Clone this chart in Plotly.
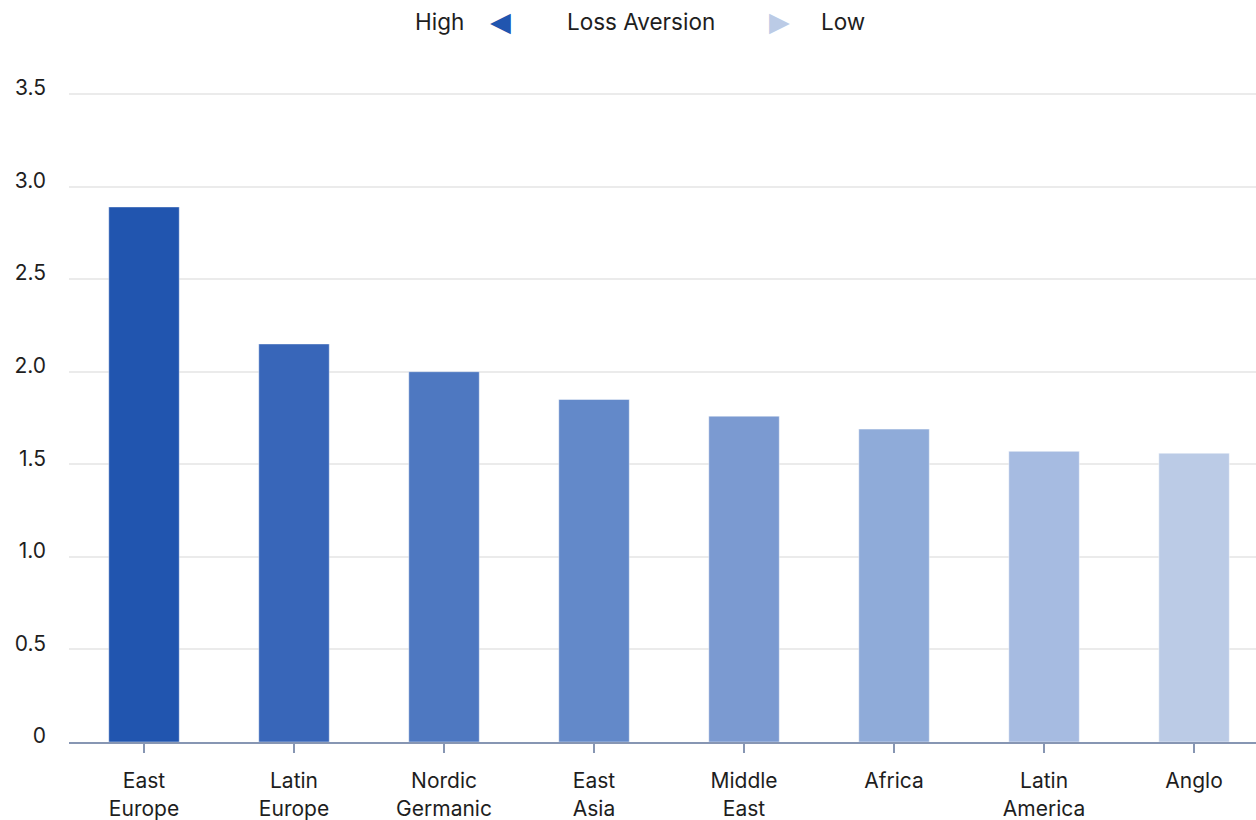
import plotly.graph_objects as go

# Regional loss aversion coefficients
regions = ["East<br>Europe", "Latin<br>Europe", "Nordic<br>Germanic", "East<br>Asia",
           "Middle<br>East", "Africa", "Latin<br>America", "Anglo"]
loss_aversion = [2.89, 2.15, 2.00, 1.85, 1.76, 1.69, 1.57, 1.56]
bar_colors = ["#2155AF", "#3866B9", "#4E78C1", "#6389C9",
              "#7B9AD1", "#8FABD9", "#A6BBE1", "#BBCBE6"]
y_ticks = [0, 0.5, 1.0, 1.5, 2.0, 2.5, 3.0, 3.5]
y_tick_labels = ["0", "0.5", "1.0", "1.5", "2.0", "2.5", "3.0", "3.5"]

FONT = "Inter"
TEXT = "#1E1E1E"
FS = 21

L, R, T, B = 69, 0, 90, 78
W, H = 1256, 820
Y_TOP = 3.5 + 4 / 185.1  # a little headroom so the 3.5 gridline is drawn

fig = go.Figure(go.Bar(
    x=list(range(len(regions))),
    y=loss_aversion,
    width=0.47,
    marker=dict(color=bar_colors, line=dict(color="rgba(255,255,255,0.45)", width=1)),
    hoverinfo="skip",
))

fig.update_layout(
    width=W, height=H,
    margin=dict(l=L, r=R, t=T, b=B),
    paper_bgcolor="white", plot_bgcolor="white",
    showlegend=False,
    font=dict(family=FONT, size=FS, color=TEXT),
)

fig.update_xaxes(
    range=[-0.5, 7.413],
    tickmode="array",
    tickvals=list(range(len(regions))),
    ticktext=regions,
    showgrid=False,
    showline=True, linecolor="#8796B3", linewidth=2,
    ticks="outside", ticklen=9, tickwidth=1.5, tickcolor="#8796B3",
    ticklabelstandoff=10,
    tickfont=dict(family=FONT, size=FS, color=TEXT),
    zeroline=False,
)

fig.update_yaxes(
    range=[0, Y_TOP],
    tickmode="array",
    tickvals=y_ticks,
    ticktext=y_tick_labels,
    showgrid=True, gridcolor="#EBEBEB", gridwidth=2,
    zeroline=False, showline=False,
    ticks="", ticklabelstandoff=22, ticklabelshift=-6,
    tickfont=dict(family=FONT, size=FS, color=TEXT),
)

# Header key: High ◀ Loss Aversion ▶ Low
plot_w = W - L - R
plot_h = H - T - B
header = [
    ("High", 439, TEXT, FONT, 22.5),
    ("◀", 500, "#2155AF", "DejaVu Sans", 27),
    ("Loss Aversion", 641, TEXT, FONT, 22.5),
    ("▶", 779, "#BBCBE6", "DejaVu Sans", 27),
    ("Low", 843, TEXT, FONT, 22.5),
]
for txt, px, col, fam, size in header:
    fig.add_annotation(
        text=txt,
        x=(px - L) / plot_w,
        y=1 + (T - 21) / plot_h,
        xref="paper", yref="paper", xanchor="center", yanchor="middle",
        showarrow=False, font=dict(family=fam, size=size, color=col),
    )

fig.write_html("out.html")
